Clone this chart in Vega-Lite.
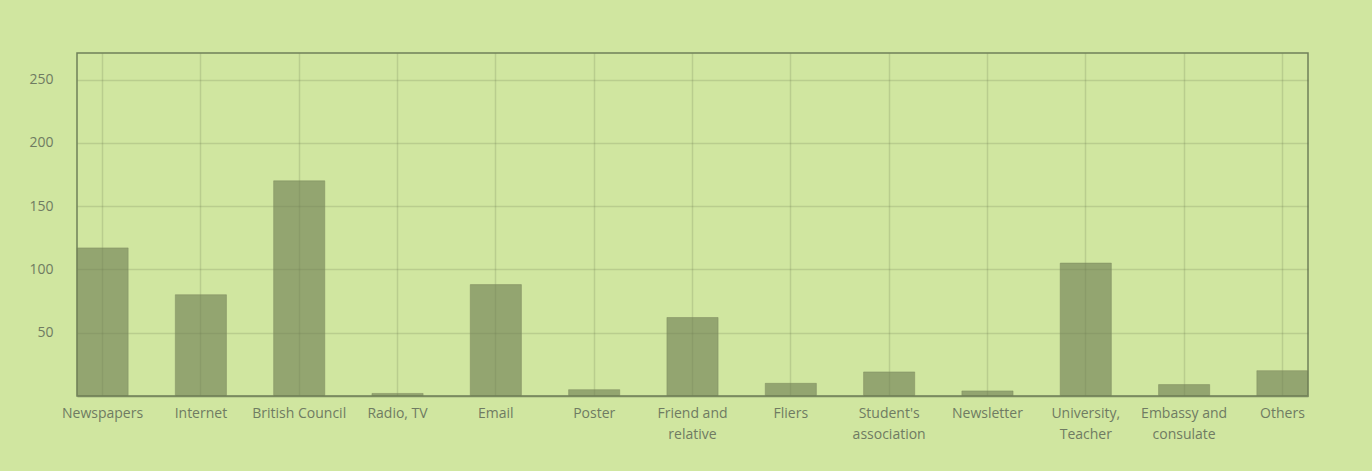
{
  "$schema": "https://vega.github.io/schema/vega-lite/v6.json",
  "width": 1231,
  "height": 343,
  "autosize": {"type": "none"},
  "padding": {"left": 77, "top": 53, "right": 64, "bottom": 75},
  "background": "#d0e6a0",
  "data": {
    "values": [
      {"source": "Newspapers", "count": 117},
      {"source": "Internet", "count": 80},
      {"source": "British Council", "count": 170},
      {"source": "Radio, TV", "count": 2},
      {"source": "Email", "count": 88},
      {"source": "Poster", "count": 5},
      {"source": "Friend and relative", "count": 62},
      {"source": "Fliers", "count": 10},
      {"source": "Student's association", "count": 19},
      {"source": "Newsletter", "count": 4},
      {"source": "University, Teacher", "count": 105},
      {"source": "Embassy and consulate", "count": 9},
      {"source": "Others", "count": 20}
    ]
  },
  "mark": {
    "type": "bar",
    "fill": "#6b7a50",
    "fillOpacity": 0.6,
    "stroke": "#7d8c5f",
    "strokeWidth": 1,
    "strokeOpacity": 0.5
  },
  "encoding": {
    "x": {
      "field": "source",
      "type": "nominal",
      "sort": null,
      "title": null,
      "scale": {"paddingInner": 0.48, "paddingOuter": 0},
      "axis": {
        "bandPosition": 0.5,
        "labelAngle": 0,
        "ticks": false,
        "labelPadding": 10,
        "labelFont": "Open Sans",
        "labelFontSize": 14,
        "labelColor": "#6f7b62",
        "labelLineHeight": 21,
        "labelLimit": 0,
        "domainColor": "#7a8a60",
        "domainWidth": 1.5,
        "grid": true,
        "gridColor": "#5e6b48",
        "gridOpacity": 0.2,
        "gridWidth": 1.5,
        "labelExpr": "datum.value == 'Friend and relative' ? ['Friend and', 'relative'] : datum.value == \"Student's association\" ? [\"Student's\", 'association'] : datum.value == 'University, Teacher' ? ['University,', 'Teacher'] : datum.value == 'Embassy and consulate' ? ['Embassy and', 'consulate'] : datum.value"
      }
    },
    "y": {
      "field": "count",
      "type": "quantitative",
      "title": null,
      "scale": {"domain": [0, 271], "nice": false},
      "axis": {
        "values": [50, 100, 150, 200, 250],
        "ticks": false,
        "domain": false,
        "labelPadding": 24,
        "labelFont": "Open Sans",
        "labelFontSize": 14,
        "labelColor": "#6f7b62",
        "grid": true,
        "gridColor": "#5e6b48",
        "gridOpacity": 0.2,
        "gridWidth": 1.5
      }
    }
  },
  "config": {
    "view": {"stroke": "#6f8058", "strokeWidth": 1.5}
  }
}
